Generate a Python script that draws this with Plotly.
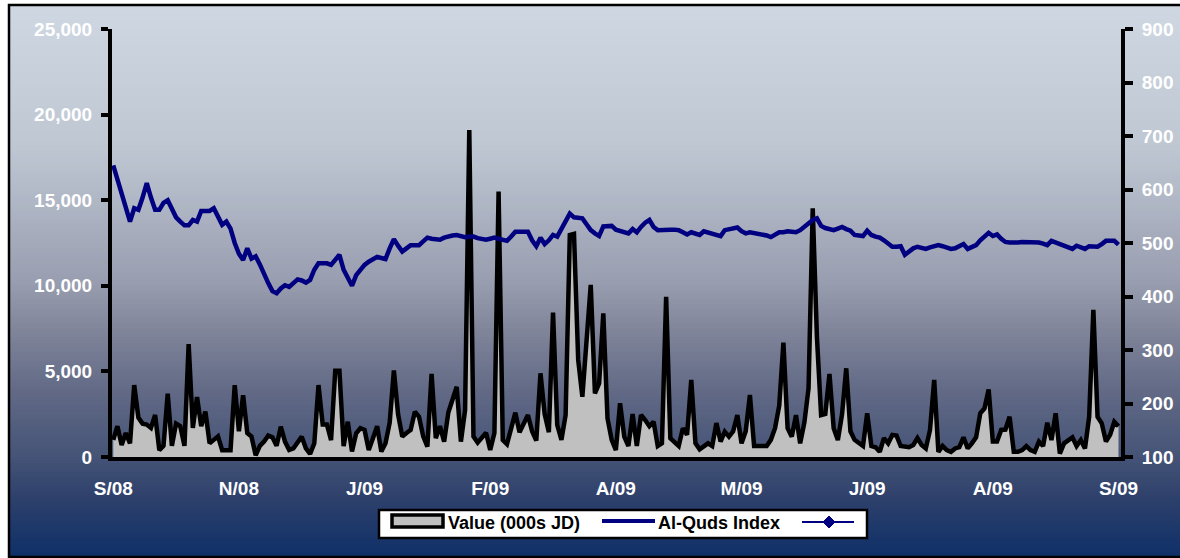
import plotly.graph_objects as go

# ---------------- data ----------------
value_000s_jd = [
    1000, 1800, 700, 1400, 800, 4200, 2300, 1950, 1900, 1700,
    2450, 400, 650, 3700, 650, 1950, 1800, 650, 6600, 1700,
    3500, 1800, 2650, 800, 1000, 1200, 400, 400, 400, 4200,
    1500, 3600, 1400, 1200, 100, 650, 900, 1250, 1150, 650,
    1770, 900, 410, 500, 900, 1190, 500, 175, 800, 4200,
    1900, 1900, 990, 5040, 5040, 640, 2060, 320, 1390, 1680,
    1580, 410, 1100, 1800, 320, 800, 2000, 5060, 2500, 1190,
    1400, 1580, 2650, 2350, 1200, 600, 4850, 1100, 1800, 900,
    2600, 3300, 4100, 900, 2745, 19100, 1190, 840, 1100, 1420,
    410, 1400, 15500, 990, 750, 1600, 2590, 1450, 1900, 2450,
    1500, 960, 4890, 2500, 1450, 8430, 1870, 1000, 2450, 12970,
    13030, 5670, 3520, 6500, 10050, 3720, 4300, 8390, 2260, 1000,
    400, 3140, 1190, 640, 2510, 640, 2450, 2160, 1800, 2060,
    640, 800, 9360, 1100, 900, 640, 1680, 1290, 4500, 800,
    450, 600, 800, 640, 1980, 900, 1480, 1190, 1500, 2450,
    800, 1500, 3620, 640, 640, 640, 640, 1000, 1680, 3000,
    6680, 1680, 1190, 2450, 800, 2000, 4010, 14530, 7000, 2450,
    2510, 4850, 1680, 990, 2500, 5180, 1500, 1000, 800, 640,
    2550, 640, 570, 300, 1100, 800, 1290, 1250, 640, 600,
    570, 700, 1100, 700, 500, 1580, 4500, 300, 640, 400,
    300, 500, 570, 1150, 500, 800, 1150, 2550, 2840, 3950,
    900, 900, 1580, 1600, 2350, 300, 300, 400, 640, 400,
    300, 900, 640, 2000, 990, 2550, 200, 800, 1000, 1150,
    640, 990, 500, 2350, 8590, 2350, 1970, 900, 1290, 2060,
    1800,
]

al_quds_index = [
    645, 620, 595, 565, 540, 565, 562, 585, 612, 585,
    562, 562, 575, 580, 565, 548, 540, 533, 533, 543,
    540, 560, 560, 560, 565, 550, 534, 540, 527, 500,
    480, 468, 490, 471, 475, 460, 440, 425, 410, 406,
    415, 421, 418, 425, 432, 430, 426, 431, 450, 462,
    462, 462, 459, 470, 478, 450, 435, 420, 440, 450,
    459, 465, 470, 474, 472, 470, 490, 507, 495, 484,
    490, 496, 496, 496, 503, 510, 508, 506, 506, 510,
    513, 514, 515, 512, 511, 512, 512, 509, 507, 506,
    508, 510, 508, 505, 504, 512, 521, 521, 521, 521,
    505, 494, 510, 498, 505, 515, 512, 525, 540, 555,
    548, 546, 546, 535, 524, 518, 513, 531, 532, 532,
    525, 523, 520, 518, 526, 520, 530, 538, 543, 530,
    524, 525, 526, 525, 525, 524, 520, 516, 520, 517,
    515, 522, 520, 518, 516, 513, 524, 526, 528, 529,
    522, 518, 520, 519, 518, 516, 514, 511, 516, 520,
    520, 522, 521, 520, 524, 530, 537, 543, 546, 532,
    528, 526, 524, 527, 530, 526, 523, 515, 514, 513,
    523, 515, 512, 510, 505, 498, 493, 493, 494, 478,
    484, 490, 493, 490, 489, 492, 495, 496, 494, 491,
    489, 490, 494, 498, 489, 492, 496, 505, 513, 519,
    513, 516, 508, 502, 501, 500, 501, 502, 502, 502,
    501, 501, 499, 496, 504, 501, 498, 496, 492, 489,
    495, 492, 489, 494, 494, 493, 498, 504, 504, 504,
    497,
]

day_index = list(range(len(value_000s_jd)))

x_tick_labels = ["S/08", "N/08", "J/09", "F/09", "A/09", "M/09", "J/09", "A/09", "S/09"]
x_tick_pos = [0, 30, 60, 90, 120, 150, 180, 210, 240]
left_ticks = [0, 5000, 10000, 15000, 20000, 25000]
right_ticks = [100, 200, 300, 400, 500, 600, 700, 800, 900]

series_names = ["Value (000s JD)", "Al-Quds Index", ""]

# ---------------- layout geometry (pixels) ----------------
W, H = 1180, 558
PL, PR, PT, PB = 112, 1121, 29, 457


def px_to_paper_x(px):
    return (px - PL) / (PR - PL)


def py_to_paper_y(py):
    return (PB - py) / (PB - PT)


# background gradient stops (pixel y, rgb)
grad_stops = [
    (4, (207, 216, 226)),
    (150, (190, 198, 210)),
    (280, (153, 158, 176)),
    (330, (128, 133, 154)),
    (390, (98, 106, 134)),
    (450, (72, 86, 120)),
    (500, (45, 64, 107)),
    (558, (13, 47, 104)),
]


def grad_color(py):
    for (y0, c0), (y1, c1) in zip(grad_stops[:-1], grad_stops[1:]):
        if y0 <= py <= y1:
            t = (py - y0) / (y1 - y0)
            c = [round(a + (b - a) * t) for a, b in zip(c0, c1)]
            return "rgb(%d,%d,%d)" % tuple(c)
    return "rgb(%d,%d,%d)" % grad_stops[-1][1]


shapes = []
step = 3
py = 4
while py < H:
    shapes.append(dict(
        type="rect", xref="paper", yref="paper", layer="below",
        x0=px_to_paper_x(8), x1=px_to_paper_x(W + 5),
        y0=py_to_paper_y(py), y1=py_to_paper_y(min(py + step + 0.6, H + 2)),
        fillcolor=grad_color(py + step / 2), line=dict(width=0),
    ))
    py += step

# outer frame
shapes.append(dict(
    type="rect", xref="paper", yref="paper", layer="below",
    x0=px_to_paper_x(9), x1=px_to_paper_x(W + 5),
    y0=py_to_paper_y(5), y1=py_to_paper_y(557),
    fillcolor="rgba(0,0,0,0)", line=dict(color="black", width=2.5),
))

FONT = "Liberation Sans, Arial, sans-serif"
tickfont = dict(family=FONT, size=19, color="white", weight="bold")
legfont = dict(family=FONT, size=18, color="black", weight="bold")

# ---------------- hand-drawn legend (Excel style) ----------------
def prect(x0, y0, x1, y1, **kw):
    return dict(type="rect", xref="paper", yref="paper",
                x0=px_to_paper_x(x0), x1=px_to_paper_x(x1),
                y0=py_to_paper_y(y0), y1=py_to_paper_y(y1), **kw)


def pline(x0, y0, x1, y1, **kw):
    return dict(type="line", xref="paper", yref="paper",
                x0=px_to_paper_x(x0), x1=px_to_paper_x(x1),
                y0=py_to_paper_y(y0), y1=py_to_paper_y(y1), **kw)


LEG_Y = 523
shapes.append(prect(379, 510, 867, 538, fillcolor="white",
                    line=dict(color="black", width=2.5), layer="above"))
shapes.append(prect(392, 515, 443, 527, fillcolor="#C0C0C0",
                    line=dict(color="black", width=3.5), layer="above"))
shapes.append(pline(602, 521, 655, 521, line=dict(color="#000080", width=4), layer="above"))
shapes.append(pline(802, 522, 854, 522, line=dict(color="#000080", width=2), layer="above"))
shapes.append(dict(
    type="path", xref="paper", yref="paper", layer="above",
    path="M %f %f L %f %f L %f %f L %f %f Z" % (
        px_to_paper_x(829), py_to_paper_y(516),
        px_to_paper_x(835), py_to_paper_y(522),
        px_to_paper_x(829), py_to_paper_y(528),
        px_to_paper_x(823), py_to_paper_y(522)),
    fillcolor="#000080", line=dict(color="#000080", width=1),
))

annotations = [
    dict(text=series_names[0], xref="paper", yref="paper",
         x=px_to_paper_x(446), y=py_to_paper_y(LEG_Y), xanchor="left", yanchor="middle",
         showarrow=False, font=legfont),
    dict(text=series_names[1], xref="paper", yref="paper",
         x=px_to_paper_x(656), y=py_to_paper_y(LEG_Y), xanchor="left", yanchor="middle",
         showarrow=False, font=legfont),
]

fig = go.Figure()

fig.add_trace(go.Scatter(
    x=day_index, y=al_quds_index, name=series_names[1], yaxis="y2",
    mode="lines", line=dict(color="#000080", width=4.5),
    hoverinfo="skip",
))

fig.add_trace(go.Scatter(
    x=day_index, y=value_000s_jd, name=series_names[0], yaxis="y",
    mode="lines", line=dict(color="black", width=4.5),
    fill="tozeroy", fillcolor="#C0C0C0",
    hoverinfo="skip",
))

fig.update_layout(
    width=W, height=H,
    margin=dict(l=PL, r=W - PR, t=PT, b=H - PB, pad=0, autoexpand=False),
    paper_bgcolor="white",
    plot_bgcolor="rgba(0,0,0,0)",
    shapes=shapes,
    annotations=annotations,
    showlegend=False,
    xaxis=dict(
        range=[-0.3, 240.6], automargin=False,
        tickmode="array", tickvals=x_tick_pos, ticktext=x_tick_labels,
        ticks="outside", ticklen=11, tickcolor="rgba(0,0,0,0)",
        showline=True, linecolor="black", linewidth=4,
        showgrid=False, zeroline=False,
        tickfont=tickfont,
    ),
    yaxis=dict(
        range=[0, 25000], automargin=False,
        tickmode="array", tickvals=left_ticks,
        tickformat=",",
        ticks="outside", ticklen=7, tickwidth=4, tickcolor="black",
        ticklabelstandoff=5,
        showline=True, linecolor="black", linewidth=4,
        showgrid=False, zeroline=False,
        tickfont=tickfont,
    ),
    yaxis2=dict(
        range=[100, 900], overlaying="y", side="right", anchor="x", automargin=False,
        tickmode="array", tickvals=right_ticks,
        ticks="outside", ticklen=8, tickwidth=4, tickcolor="black",
        ticklabelstandoff=5,
        showline=True, linecolor="black", linewidth=4,
        showgrid=False, zeroline=False,
        tickfont=tickfont,
    ),
    yaxis3=dict(
        range=[100, 900], overlaying="y", side="right", anchor="x", automargin=False,
        tickmode="array", tickvals=right_ticks,
        ticks="inside", ticklen=7, tickwidth=4, tickcolor="black",
        showline=False, showticklabels=False,
        showgrid=False, zeroline=False,
    ),
)

fig.write_html(
    "out.html",
    config={"displayModeBar": False},
    post_script="document.body.style.margin='0px';document.body.style.overflow='hidden';",
)
